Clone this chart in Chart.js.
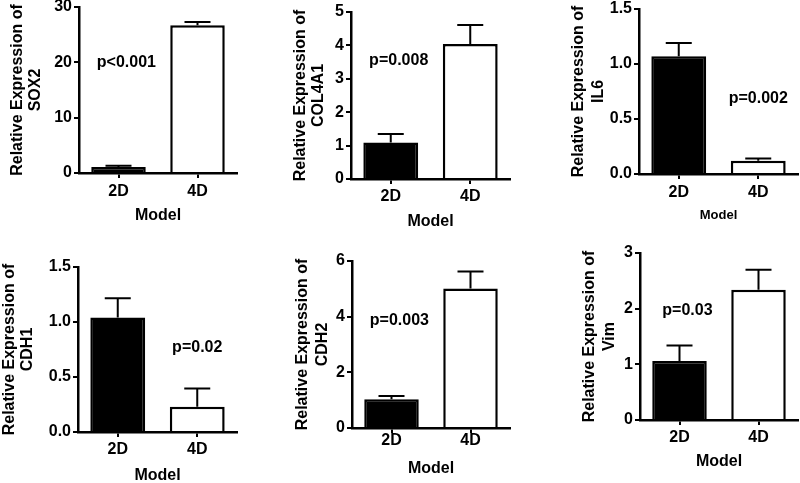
<!DOCTYPE html>
<html>
<head>
<meta charset="utf-8">
<title>Relative expression, 2D vs 4D model</title>
<script src="https://cdn.jsdelivr.net/npm/chart.js@4.4.1/dist/chart.umd.min.js"></script>
<style>
    html, body { margin: 0; padding: 0; background: #fff; }
    #board { position: relative; width: 800px; height: 483px; overflow: hidden; background: #fff; }
    #board canvas { position: absolute; }
</style>
</head>
<body>
<div id="board"></div>
<script>
// values
const categories = ['2D', '4D'];
const genes = ['SOX2', 'COL4A1', 'IL6', 'CDH1', 'CDH2', 'Vim'];
const mean2D = [1.1, 1.09, 1.07, 1.04, 1.03, 1.06];
const mean4D = [26.7, 4.04, 0.12, 0.23, 5.01, 2.34];
const err2D = [0.22, 0.26, 0.12, 0.175, 0.12, 0.28];
const err4D = [0.6, 0.57, 0.02, 0.165, 0.61, 0.36];
const yTickLabels = [
    ['0', '10', '20', '30'],
    ['0', '1', '2', '3', '4', '5'],
    ['0.0', '0.5', '1.0', '1.5'],
    ['0.0', '0.5', '1.0', '1.5'],
    ['0', '2', '4', '6'],
    ['0', '1', '2', '3'],
];
const pLabels = ['p<0.001', 'p=0.008', 'p=0.002', 'p=0.02', 'p=0.003', 'p=0.03'];
// where each p label sits, in axis units (category index, y value)
const pAtX = [0.1, 0.1, 1.0, 1.0, 0.1, 0.1];
const pAtY = [20, 3.56, 0.69, 0.77, 3.86, 1.96];

// page geometry of each panel (pixels on the 800x483 page)
const frames = [
    { col: 0, row: 0, axisX: 79, top: 7, bottom: 173, right: 237, t1: 17.5, tGap: 18, labelY: 191.7, modelY: 215.3, modelSize: 16 },
    { col: 1, row: 0, axisX: 351, top: 12, bottom: 179, right: 510, t1: 300.7, tGap: 18, labelY: 197, modelY: 221.5, modelSize: 16 },
    { col: 2, row: 0, axisX: 639, top: 9, bottom: 174, right: 798, t1: 578.5, tGap: 20.5, labelY: 192.5, modelY: 215.3, modelSize: 13 },
    { col: 0, row: 1, axisX: 78, top: 267, bottom: 432, right: 237, t1: 9.2, tGap: 18.3, labelY: 450, modelY: 475.5, modelSize: 16 },
    { col: 1, row: 1, axisX: 352, top: 261, bottom: 428, right: 510, t1: 302.5, tGap: 20, labelY: 441, modelY: 469, modelSize: 16 },
    { col: 2, row: 1, axisX: 640, top: 253, bottom: 420, right: 798, t1: 589.2, tGap: 20, labelY: 438, modelY: 462, modelSize: 16 },
];

const FONT = "'Liberation Sans', Arial, Helvetica, sans-serif";
const TICK_SIZE = 16;
const TICK_LEN = 5;
Chart.defaults.font.family = FONT;
Chart.defaults.font.weight = 'bold';
Chart.defaults.color = '#000';

// error bars (upper only) and the p value text
const extrasPlugin = {
    id: 'extras',
    afterDatasetsDraw(chart, args, opts) {
        const { ctx } = chart;
        const xs = chart.scales.x;
        const ys = chart.scales.y;
        const meta = chart.getDatasetMeta(0);
        ctx.save();
        ctx.strokeStyle = '#000';
        ctx.lineWidth = 2;
        meta.data.forEach((bar, i) => {
            const top = ys.getPixelForValue(opts.means[i] + opts.errs[i]);
            ctx.beginPath();
            ctx.moveTo(bar.x, bar.y);
            ctx.lineTo(bar.x, top);
            ctx.moveTo(bar.x - 13, top);
            ctx.lineTo(bar.x + 13, top);
            ctx.stroke();
        });
        ctx.fillStyle = '#000';
        ctx.font = `bold 16px ${FONT}`;
        ctx.textAlign = 'center';
        ctx.textBaseline = 'middle';
        ctx.fillText(opts.label, xs.getPixelForValue(opts.px), ys.getPixelForValue(opts.py));
        ctx.restore();
    },
};

const board = document.getElementById('board');

genes.forEach((gene, g) => {
    const f = frames[g];
    const L = f.col * 270;
    const T = f.row * 240 - 12;
    const W = f.col === 2 ? 260 : 270;
    const H = 270;
    const modelLH = f.modelSize * 1.2;
    const xScaleBottom = f.modelY + modelLH / 2;

    const canvas = document.createElement('canvas');
    canvas.width = W;
    canvas.height = H;
    canvas.style.left = L + 'px';
    canvas.style.top = T + 'px';
    board.appendChild(canvas);

    const ticks = yTickLabels[g];
    const means = [mean2D[g], mean4D[g]];
    const errs = [err2D[g], err4D[g]];

    new Chart(canvas.getContext('2d'), {
        type: 'bar',
        data: {
            labels: categories,
            datasets: [
                {
                    data: means,
                    backgroundColor: ['#000', '#fff'],
                    borderColor: '#000',
                    borderWidth: 2.5,
                    barPercentage: 0.69,
                    categoryPercentage: 1,
                },
            ],
        },
        options: {
            responsive: false,
            maintainAspectRatio: false,
            animation: false,
            events: [],
            layout: {
                padding: {
                    left: 0,
                    top: f.top - T,
                    right: L + W - f.right,
                    bottom: T + H - xScaleBottom,
                },
            },
            plugins: {
                legend: { display: false },
                tooltip: { enabled: false },
                extras: { means, errs, label: pLabels[g], px: pAtX[g], py: pAtY[g] },
            },
            scales: {
                x: {
                    grid: {
                        display: true,
                        drawOnChartArea: false,
                        drawTicks: true,
                        tickLength: TICK_LEN,
                        offset: false,
                        color: '#000',
                        lineWidth: 2,
                    },
                    border: { display: true, color: '#000', width: 2.5 },
                    ticks: {
                        font: { size: TICK_SIZE, weight: 'bold' },
                        padding: f.labelY - f.bottom - TICK_LEN - TICK_SIZE * 0.6,
                        maxRotation: 0,
                    },
                    title: {
                        display: true,
                        text: 'Model',
                        font: { size: f.modelSize, weight: 'bold', lineHeight: 1.2 },
                        padding: { top: 0, bottom: 0 },
                    },
                    afterFit(scale) {
                        scale.height = xScaleBottom - f.bottom;
                    },
                },
                y: {
                    min: 0,
                    max: parseFloat(ticks[ticks.length - 1]),
                    grid: {
                        display: true,
                        drawOnChartArea: false,
                        drawTicks: true,
                        tickLength: TICK_LEN,
                        color: '#000',
                        lineWidth: 2,
                    },
                    border: { display: true, color: '#000', width: 2.5 },
                    ticks: {
                        font: { size: TICK_SIZE, weight: 'bold' },
                        padding: 2,
                        callback: (v, i) => ticks[i],
                    },
                    afterBuildTicks(scale) {
                        scale.ticks = ticks.map((t) => ({ value: parseFloat(t) }));
                    },
                    title: {
                        display: true,
                        text: ['Relative Expression of', gene],
                        font: { size: 16, weight: 'bold', lineHeight: f.tGap / 16 },
                        padding: { top: f.t1 - L - f.tGap / 2, bottom: 0 },
                    },
                    afterFit(scale) {
                        scale.width = f.axisX - L;
                    },
                },
            },
        },
        plugins: [extrasPlugin],
    });
});
</script>
</body>
</html>
